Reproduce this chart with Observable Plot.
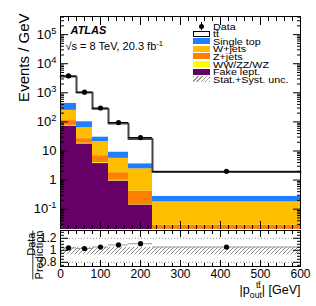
<!DOCTYPE html>
<html>
<head>
<meta charset="utf-8">
<script src="https://cdn.jsdelivr.net/npm/d3@7"></script>
<script src="https://cdn.jsdelivr.net/npm/@observablehq/plot@0.6"></script>
<style>
  body { margin: 0; background: white; }
  #wrap { position: relative; width: 316px; height: 306px; font-family: "Liberation Sans", Arial, sans-serif; }
  #main, #ratio { position: absolute; left: 0; }
  #main { top: 0; }
  #ratio { top: 229px; }
  #legend { position: absolute; left: 0; top: 0; width: 316px; height: 100px; pointer-events: none; }
  .lrow { position: absolute; left: 193px; height: 7px; font-size: 9.5px; line-height: 7px; white-space: nowrap; }
  .sw { position: absolute; left: 0; top: 0.5px; width: 17px; height: 6px; box-sizing: border-box; }
  .lt { position: absolute; left: 20px; top: 0; transform: scaleX(1.13); transform-origin: left center; }
</style>
</head>
<body>
<svg width="0" height="0" style="position:absolute">
  <defs>
    <pattern id="hatch" patternUnits="userSpaceOnUse" width="4" height="4">
      <path d="M-1,1 l2,-2 M0,4 l4,-4 M3,5 l2,-2" stroke="#7a7a7a" stroke-width="0.9"/>
    </pattern>
  </defs>
</svg>
<div id="wrap">
  <div id="main"></div>
  <div id="ratio"></div>
  <div id="legend"></div>
</div>
<script>
// ---- data ----
const binEdges = [0, 40, 80, 120, 170, 230, 600];
const binCenters = [20, 60, 100, 145, 200, 415];
const dataValues = [3800, 1050, 300, 95, 29, 2.0];
const ratioValues = [1.04, 1.03, 1.055, 1.09, 1.11, 1.055];
const uncLow = [0.925, 0.925, 0.925, 0.925, 0.925, 0.925];
const uncHigh = [1.05, 1.05, 1.05, 1.05, 1.05, 1.05];
const fakeLept = [72, 17.5, 3.7, 0.93, 0.14, 0.012];
const diboson = [4, 1, 0.25, 0.05, 0.005, 0.001];
const zJets = [35, 8, 2.95, 0.81, 0.27, 0.015];
const wJets = [138, 36.5, 14.1, 3.8, 2.03, 0.15];
const singleTop = [187, 39, 9.4, 3.65, 1.2, 0.10];
const ttbar = [3214, 918, 255, 78, 22.4, 1.62];

const procNames = ["Fake lept.", "WW/ZZ/WZ", "Z+jets", "W+jets", "Single top", "tt\u0304"];
const procColors = ["#660066", "#ffff00", "#ff7f00", "#ffbd00", "#1f7fff", "#ffffff"];
const legendLabels = ["Data", "tt\u0304", "Single top", "W+jets", "Z+jets", "WW/ZZ/WZ", "Fake lept.", "Stat.+Syst. unc."];

const yTickLabels = ["10^-1", "1", "10", "10^2", "10^3", "10^4", "10^5"];
const yDecades = [0.1, 1, 10, 100, 1e3, 1e4, 1e5];
const xTicks = [0, 100, 200, 300, 400, 500, 600];
const ratioTicks = [0.8, 1, 1.2];
const ratioRefLines = [0.8, 1.2];

// ---- derived tables ----
const yDomain = [0.02, 4.2e5];
const series = [fakeLept, diboson, zJets, wJets, singleTop, ttbar];
const stackRows = [];
const totals = [];
binEdges.slice(0, -1).forEach((e, i) => {
  let cum = 0;
  series.forEach((s, k) => {
    const y1 = cum === 0 ? yDomain[0] : cum;
    cum += s[i];
    stackRows.push({x1: e, x2: binEdges[i + 1], y1, y2: cum, proc: procNames[k]});
  });
  totals.push(cum);
});
const stepPts = binEdges.map((e, i) => ({x: e, y: totals[Math.min(i, totals.length - 1)]}));
const bins = binCenters.map((c, i) => ({
  c, x1: binEdges[i], x2: binEdges[i + 1], d: dataValues[i], r: ratioValues[i], lo: uncLow[i], hi: uncHigh[i]
}));
const minorLog = [];
yDecades.concat([0.01]).forEach(d => { for (let m = 2; m <= 9; m++) { const v = d * m; if (v > yDomain[0] && v < yDomain[1]) minorLog.push(v); } });
const minorX = d3.range(0, 601, 20).filter(v => v % 100 !== 0);
const minorR = d3.range(0.75, 1.331, 0.05).map(v => +v.toFixed(2)).filter(v => !ratioTicks.includes(v));

const font = '"Liberation Sans", Arial, sans-serif';

function tickAxes(axisFn, anchor, major, minor, big, small) {
  return [
    axisFn({anchor, ticks: major, tickSize: -big, fill: "none", label: null, stroke: "black"}),
    axisFn({anchor, ticks: minor, tickSize: -small, fill: "none", label: null, stroke: "black"})
  ];
}

// ---- main panel ----
const main = Plot.plot({
  width: 316, height: 229,
  marginLeft: 60, marginRight: 16, marginTop: 16, marginBottom: 0,
  style: {fontFamily: font, background: "white", color: "black"},
  x: {domain: [0, 600]},
  y: {type: "log", domain: yDomain},
  color: {domain: procNames, range: procColors},
  marks: [
    Plot.rect(stackRows, {x1: "x1", x2: "x2", y1: "y1", y2: "y2", fill: "proc"}),
    Plot.line(stepPts, {x: "x", y: "y", curve: "step-after", stroke: "#444", strokeWidth: 2}),
    Plot.ruleY(bins, {x1: "x1", x2: "x2", y: "d", stroke: "black", strokeWidth: 1}),
    Plot.dot(bins, {x: "c", y: "d", r: 2.6, fill: "black"}),
    Plot.frame({stroke: "black"}),
    ...tickAxes(Plot.axisY, "left", yDecades, minorLog, 8, 4),
    ...tickAxes(Plot.axisY, "right", yDecades, minorLog, 8, 4),
    ...tickAxes(Plot.axisX, "bottom", xTicks, minorX, 8, 4),
    ...tickAxes(Plot.axisX, "top", xTicks, minorX, 8, 4),
    Plot.axisY({anchor: "left", ticks: yDecades, tickSize: 0, tickPadding: 4, fontSize: 13, label: null,
      tickFormat: d => yTickLabels[yDecades.indexOf(d)]}),
    Plot.text(["Events / GeV"], {frameAnchor: "top-left", dx: -42, dy: -3, rotate: -90, textAnchor: "end", fontSize: 15}),
    Plot.text(["ATLAS"], {frameAnchor: "top-left", dx: 10, dy: 10, textAnchor: "start", fontSize: 11, fontWeight: "bold", fontStyle: "italic"}),
    Plot.text(["\u221As = 8 TeV, 20.3 fb^-1"], {frameAnchor: "top-left", dx: 5, dy: 26, textAnchor: "start", fontSize: 11, className: "lumi"})
  ]
});
document.getElementById("main").appendChild(main);

// ---- ratio panel ----
const ratio = Plot.plot({
  width: 316, height: 77,
  marginLeft: 60, marginRight: 16, marginTop: 1, marginBottom: 40,
  style: {fontFamily: font, background: "transparent", color: "black"},
  x: {domain: [0, 600]},
  y: {domain: [0.73, 1.33]},
  marks: [
    Plot.rect(bins, {x1: "x1", x2: "x2", y1: "lo", y2: "hi", fill: "url(#hatch)"}),
    Plot.ruleY(ratioRefLines, {stroke: "#777", strokeDasharray: "1,2", strokeWidth: 0.8}),
    Plot.ruleY(bins, {x1: "x1", x2: "x2", y: "r", stroke: "#999", strokeWidth: 1}),
    Plot.dot(bins, {x: "c", y: "r", r: 2.6, fill: "black"}),
    Plot.frame({stroke: "black"}),
    ...tickAxes(Plot.axisY, "left", ratioTicks, minorR, 8, 4),
    ...tickAxes(Plot.axisY, "right", ratioTicks, minorR, 8, 4),
    ...tickAxes(Plot.axisX, "bottom", xTicks, minorX, 6, 3),
    ...tickAxes(Plot.axisX, "top", xTicks, minorX, 6, 3),
    Plot.axisY({anchor: "left", ticks: ratioTicks, tickSize: 0, tickPadding: 4, fontSize: 12, label: null,
      tickFormat: d => String(d)}),
    Plot.axisX({anchor: "bottom", ticks: xTicks, tickSize: 0, tickPadding: 3, fontSize: 12, label: null}),
    Plot.text(["Data"], {frameAnchor: "top-left", dx: -33, dy: 2, rotate: -90, textAnchor: "end", fontSize: 11}),
    Plot.text(["Prediction"], {frameAnchor: "top-left", dx: -25, dy: 0, rotate: -90, textAnchor: "end", fontSize: 11, className: "pred"}),
    Plot.text(["|p"], {frameAnchor: "bottom-right", dy: 27, textAnchor: "end", fontSize: 12.5, className: "xlab"})
  ]
});
document.getElementById("ratio").appendChild(ratio);

// ---- typographic post-processing (super/subscripts) ----
d3.select(main).selectAll('g[aria-label="y-axis tick label"] text').each(function () {
  const s = this.textContent;
  if (s.includes("^")) {
    const [b, e] = s.split("^");
    const t = d3.select(this);
    t.text(b);
    t.append("tspan").attr("dy", "-0.55em").attr("font-size", "72%").text(e);
  }
});
d3.select(main).selectAll(".lumi text").each(function () {
  const t = d3.select(this);
  t.text("\u221As = 8 TeV, 20.3 fb");
  t.append("tspan").attr("dy", "-4").attr("font-size", "70%").text("-1");
});
d3.select(ratio).selectAll(".xlab text").each(function () {
  const t = d3.select(this);
  t.attr("text-anchor", "end");
  t.text("|p");
  t.append("tspan").attr("dy", "4").attr("font-size", "70%").text("out");
  t.append("tspan").attr("dx", "-6").attr("dy", "-9.5").attr("font-size", "70%").text("tt\u0304");
  t.append("tspan").attr("dx", "1").attr("dy", "5.5").text("| [GeV]");
});
// fraction bar for Data / Prediction
d3.select(ratio).selectAll(".pred text").each(function () {
  const bb = this.getBBox();
  const tr = this.getAttribute("transform");
  d3.select(this.parentNode).append("line")
    .attr("transform", tr)
    .attr("x1", bb.x).attr("x2", bb.x + bb.width)
    .attr("y1", bb.y - 0.5).attr("y2", bb.y - 0.5)
    .attr("stroke", "black").attr("stroke-width", 0.8);
});

// ---- legend (HTML overlay) ----
const legendColors = [null, "#ffffff", "#1f7fff", "#ffbd00", "#ff7f00", "#ffff00", "#660066", "hatch"];
const leg = d3.select("#legend");
legendLabels.forEach((lab, i) => {
  const row = leg.append("div").attr("class", "lrow").style("top", (22.5 + i * 7.6) + "px");
  const c = legendColors[i];
  if (i === 0) {
    row.append("div").style("position", "absolute").style("left", "6px").style("top", "1px")
      .style("width", "5px").style("height", "5px").style("border-radius", "50%").style("background", "black");
    row.append("div").style("position", "absolute").style("left", "8px").style("top", "-0.5px")
      .style("width", "1px").style("height", "8px").style("background", "black");
  } else if (c === "hatch") {
    row.append("div").attr("class", "sw")
      .style("background", "repeating-linear-gradient(-45deg, #999 0 1px, transparent 1px 3px)");
  } else {
    row.append("div").attr("class", "sw").style("background", c)
      .style("border", c === "#ffffff" ? "1px solid black" : "none");
  }
  row.append("div").attr("class", "lt").text(lab);
});
</script>
</body>
</html>
